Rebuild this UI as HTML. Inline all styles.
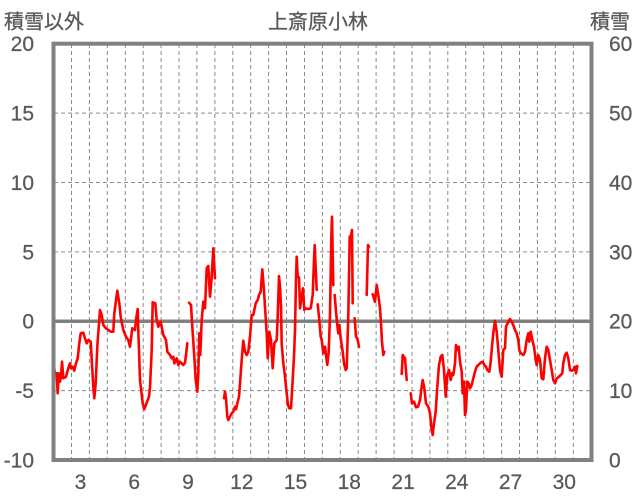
<!DOCTYPE html>
<html>
<head>
<meta charset="utf-8">
<style>
  html, body { margin: 0; padding: 0; background: #ffffff; }
  svg { display: block; }
  .t { font-family: "Liberation Sans", "Noto Sans CJK JP", sans-serif; fill: #595959; font-size: 21px; stroke: #595959; stroke-width: 0.25px; }
  .j { font-family: "Liberation Sans", "Noto Sans CJK JP", sans-serif; fill: #595959; font-size: 20px; stroke: #595959; stroke-width: 0.3px; }
</style>
</head>
<body>
<svg width="636" height="501" viewBox="0 0 636 501" xmlns="http://www.w3.org/2000/svg">
  <rect x="0" y="0" width="636" height="501" fill="#ffffff"/>

  <g stroke="#8a8a8a" stroke-width="1" stroke-dasharray="4,3" fill="none">
    <line x1="71.5" y1="44" x2="71.5" y2="460"/>
    <line x1="89.4" y1="44" x2="89.4" y2="460"/>
    <line x1="107.3" y1="44" x2="107.3" y2="460"/>
    <line x1="125.3" y1="44" x2="125.3" y2="460"/>
    <line x1="143.2" y1="44" x2="143.2" y2="460"/>
    <line x1="161.1" y1="44" x2="161.1" y2="460"/>
    <line x1="179.0" y1="44" x2="179.0" y2="460"/>
    <line x1="196.9" y1="44" x2="196.9" y2="460"/>
    <line x1="214.9" y1="44" x2="214.9" y2="460"/>
    <line x1="232.8" y1="44" x2="232.8" y2="460"/>
    <line x1="250.7" y1="44" x2="250.7" y2="460"/>
    <line x1="268.6" y1="44" x2="268.6" y2="460"/>
    <line x1="286.5" y1="44" x2="286.5" y2="460"/>
    <line x1="304.5" y1="44" x2="304.5" y2="460"/>
    <line x1="322.4" y1="44" x2="322.4" y2="460"/>
    <line x1="340.3" y1="44" x2="340.3" y2="460"/>
    <line x1="358.2" y1="44" x2="358.2" y2="460"/>
    <line x1="376.1" y1="44" x2="376.1" y2="460"/>
    <line x1="394.1" y1="44" x2="394.1" y2="460"/>
    <line x1="412.0" y1="44" x2="412.0" y2="460"/>
    <line x1="429.9" y1="44" x2="429.9" y2="460"/>
    <line x1="447.8" y1="44" x2="447.8" y2="460"/>
    <line x1="465.7" y1="44" x2="465.7" y2="460"/>
    <line x1="483.7" y1="44" x2="483.7" y2="460"/>
    <line x1="501.6" y1="44" x2="501.6" y2="460"/>
    <line x1="519.5" y1="44" x2="519.5" y2="460"/>
    <line x1="537.4" y1="44" x2="537.4" y2="460"/>
    <line x1="555.3" y1="44" x2="555.3" y2="460"/>
    <line x1="573.3" y1="44" x2="573.3" y2="460"/>
  </g>

  <g stroke="#8a8a8a" stroke-width="1" stroke-dasharray="4,3" fill="none">
    <line x1="54" y1="113.1" x2="591" y2="113.1"/>
    <line x1="54" y1="182.5" x2="591" y2="182.5"/>
    <line x1="54" y1="251.9" x2="591" y2="251.9"/>
    <line x1="54" y1="390.6" x2="591" y2="390.6"/>
  </g>

  <line x1="54" y1="321.2" x2="591" y2="321.2" stroke="#808080" stroke-width="3.5"/>

  <g stroke="#ff0000" stroke-width="2.6" fill="none" stroke-linejoin="round" stroke-linecap="round">
    <polyline points="54,366.7 55,373.3 56.7,373.3 57.7,393.3 58.7,373.3 60,381.7 61,376.7 62,361.7 63.3,378.3 66,376.7 68.3,368.3 70,363.3 71,368.3 72.7,366.7 74.3,370.7 76,363.3 77.7,358.3 79.3,343.3 80.7,333.3 83.3,332.7 85,338.3 86.7,343.3 88.3,340 90.7,341.7 92.3,370 93.3,386.7 94.3,398.3 95.7,383.3 97.3,346.7 100,310 101.7,315 103.3,325 106,328.3 108.3,330 111,331.7 113.3,331.7 114.3,313.3 117.3,290.7 119.3,303.3 120.7,316.7 123.3,330 126,336.7 128.3,340 130,346.7 132.3,328.3 135,330 136,320 137.7,309 138.3,330 140,380 142.7,403.3 144.3,409.3 146.7,402.7 149,396.7 150,386.7 151.7,350 152.7,302.3 155.3,303.3 156.7,320 158.3,326.7 160.7,321.7 163.3,335 166,340 167.3,351.7 170,355 171.7,358.3 173.3,356.7 174.3,363.3 176.7,358.3 178.3,365 180,361.7 181.7,363.3 183.3,365 185,362.7 186,355 187.3,343.3"/>
    <polyline points="189,302.7 191,305 192.3,326.7 194.3,356.7 195.7,380 197.3,391.7 198.3,373.3 199.3,333.3 200.3,355 201.7,320 203.3,301.7 205,308.3 206.7,268.3 208.3,266 210,296.7 211.7,276.7 213.3,248.3 215,278.3"/>
    <polyline points="224,398.3 225,391.7 226,398.3 227.3,416.7 228.3,420 230,416.7 231.7,413.3 233.3,411.7 235,406.7 236,409.3 237.3,403.3 239,396.7 240,383.3 241.7,360 243.3,340.7 245,351.7 246.7,355 248.3,351.7 250,336.7 251.7,315 253.3,315 255.7,303.3 257.7,300 259,295 260.7,291.7 262.3,269.3 263.7,286.7 265,306.7 266.7,333.3 267.7,358.3 269.3,331.7 271,340 272.7,368.3 274.3,343.3 276.7,340 277.7,316.7 279,276 280,286.7 281,306.7 281.7,343.3 283.3,363.3 285,376.7 286.7,393.3 288,405 289.3,408.3 291,408.3 292.3,386.7 294,356.7 295,330 296,280 296.7,256.7 297.7,276.7 299,277.3 300,308.3 301.7,296.7 303,288.3 304.3,310 305,308.3 308.3,309 310.7,308.3 312.7,295 314,260 314.7,245 315.7,268.3 316.7,290"/>
    <polyline points="317.7,304.3 319.3,320 320.7,336.7 321.7,340 323.3,353.3 325,346.7 326,355 327.3,365 328.7,351.7 330,315 331.3,238.3 332,216.7 333.3,285"/>
    <polyline points="334.7,295 336,311.7 337.3,325 338.3,333.3 339.3,325 340.7,338.3 342.7,351.7 344,363.3 345.7,370 346.7,368.3 348.3,315 349.7,236.7 351,235.7 352,230 352.7,303.3"/>
    <polyline points="354.7,318.3 356,336.7 357.3,338.3 359,346.7"/>
    <polyline points="366.7,295 368,245 369,246.7"/>
    <polyline points="372.7,294.3 375,301.7 376.7,285 378.3,295 380,308.3 381,323.3 382,341.7 383.3,355 384.3,351.7"/>
    <polyline points="401.7,374 402.7,355 405,358.3 406.7,380"/>
    <polyline points="410.7,393.3 412,403.3 414,401.7 416,407.3 418,406.7 420,400 421.7,386.7 422.7,380 424.3,388.3 426,403.3 428.3,406.7 430,413.3 431.3,426.7 432.7,435 434,423.3 435.7,411.7 437.3,386.7 439,365 440.7,356.7 442.3,355 444,370 445.7,396.7 447.3,375 449,370 450.7,380 452,373.3 453.3,375 455,363.3 456,345 457.3,350 458.7,346.7 460,361.7 461.7,371.7 462.7,393.3 464,381.7 465,415 466,410 467.3,381.7 468.7,383.3 470,388.3 471.7,385 473.3,378.3 475,371.7 476.7,366.7 478.3,365 480.7,362.7 482.7,361.7 484.3,365 486,366.7 487.3,370 489.3,371.7 490.7,361.7 492.3,343.3 493.3,333.3 495,320.7 496.7,331.7 498.3,350 500,370 501.7,376.7 503.3,350 505,348.3 506,326.7 508.3,321.7 510,319 511.7,321.7 513.3,325 515,330 516.7,333.3 518.3,340 519.3,350 520.7,353.3 523.3,355 525,351.7 526.7,340 528.3,333.3 529.3,341.7 530.7,331.7 532.3,340 534,346.7 535.7,360 536.7,365 538.3,355 540,360 541.7,378.3 543.3,379.3 545,358.3 546.7,346.7 548.3,350 550,360 551.7,370 553.3,380 555,383.3 556.7,378.3 558.3,377.3 560.7,375 562.3,373.3 563.3,363.3 565,355 566.7,352.7 568.3,358.3 570,370 571.7,370.7 573.3,370 575,366.7 576,373.3 577.3,366"/>
  </g>

  <rect x="53.5" y="43.7" width="538" height="416.3" fill="none" stroke="#808080" stroke-width="4"/>

  <g class="t" text-anchor="end">
    <text x="34" y="50.8">20</text>
    <text x="34" y="120.6">15</text>
    <text x="34" y="190">10</text>
    <text x="34" y="259.4">5</text>
    <text x="34" y="328.7">0</text>
    <text x="34" y="398.1">-5</text>
    <text x="34" y="467.5">-10</text>
  </g>

  <g class="t" text-anchor="start">
    <text x="609" y="50.8">60</text>
    <text x="609" y="120.6">50</text>
    <text x="609" y="190">40</text>
    <text x="609" y="259.4">30</text>
    <text x="609" y="328.7">20</text>
    <text x="609" y="398.1">10</text>
    <text x="609" y="467.5">0</text>
  </g>

  <g class="t" text-anchor="middle">
    <text x="80.5" y="489">3</text>
    <text x="134.2" y="489">6</text>
    <text x="188" y="489">9</text>
    <text x="241.8" y="489">12</text>
    <text x="295.5" y="489">15</text>
    <text x="349.3" y="489">18</text>
    <text x="403" y="489">21</text>
    <text x="456.8" y="489">24</text>
    <text x="510.5" y="489">27</text>
    <text x="564.3" y="489">30</text>
  </g>

  <text class="j" x="4" y="28.5">積雪以外</text>
  <text class="j" x="318" y="28.5" text-anchor="middle">上斎原小林</text>
  <text class="j" x="590" y="28.5">積雪</text>
</svg>
</body>
</html>
